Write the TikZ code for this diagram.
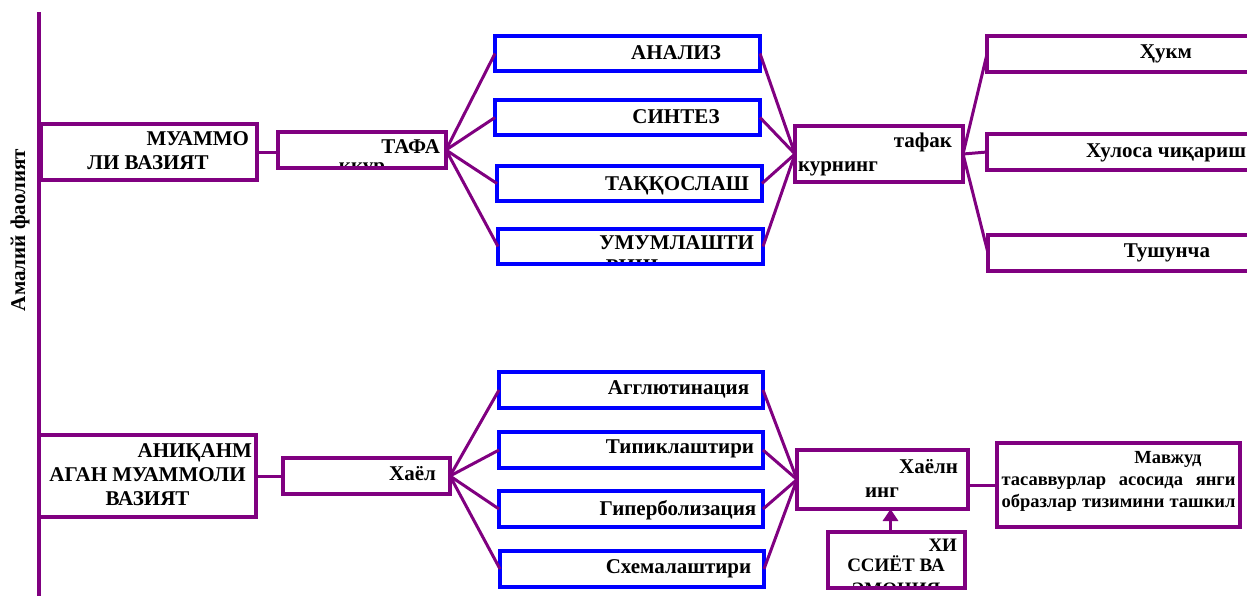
\documentclass[tikz,border=0pt]{standalone}
\usepackage{fontspec}
\setmainfont{Liberation Serif}
\usetikzlibrary{arrows.meta}
\definecolor{vpurple}{RGB}{128,0,128}
\definecolor{vblue}{RGB}{0,0,255}
\newcommand\smtxt{\fontsize{18.5}{22}\selectfont}

\begin{document}
\begin{tikzpicture}[x=1pt, y=-1pt,
    pbox/.style={draw=vpurple, line width=4pt, outer sep=0pt, inner sep=0pt, anchor=north west},
    bbox/.style={pbox, draw=vblue},
    lbl/.style={font=\bfseries\fontsize{21}{24}\selectfont, inner sep=0pt, anchor=base, align=flush center},
    txt/.style n args={4}{path picture={\node[lbl, text width=#1] at ([xshift=#2, yshift=-#3]path picture bounding box.north) {#4};}},
    wire/.style={draw=vpurple, line width=3pt}]
    \useasboundingbox (0,0) rectangle (1247,595);
    \clip (0,0) rectangle (1247,595);

    % axis on the left
    \coordinate (axtop) at (39,12);
    \coordinate (axbot) at (39,600);
    \draw[wire, line width=4.5pt] (axtop) -- (axbot);
    \node[font=\bfseries\fontsize{21}{24}\selectfont, rotate=90] (side) at (20,230) {Амалий фаолият};

    % upper branch
    \node[pbox, minimum width=216pt, minimum height=56pt, txt={202pt}{-1pt}{21pt}{\hfill МУАММО\\ЛИ ВАЗИЯТ}] (muammo) at (41,124) {};
    \node[pbox, minimum width=168pt, minimum height=36pt, txt={156pt}{0pt}{21pt}{\hfill ТАФА\\[-5pt]ккур}] (tafa) at (278,132) {};
    \node[bbox, minimum width=265pt, minimum height=35pt, txt={240pt}{48.5pt}{23pt}{АНАЛИЗ}] (analiz) at (495,36) {};
    \node[bbox, minimum width=265pt, minimum height=35pt, txt={240pt}{48.5pt}{23pt}{СИНТЕЗ}] (sintez) at (495,100) {};
    \node[bbox, minimum width=265pt, minimum height=35pt, txt={240pt}{47.5pt}{24pt}{ТАҚҚОСЛАШ}] (taqq) at (497,166) {};
    \node[bbox, minimum width=265pt, minimum height=35pt, txt={244pt}{1.5pt}{20pt}{\hfill УМУМЛАШТИ\\РИШ}] (umum) at (498,229) {};
    \node[pbox, minimum width=168pt, minimum height=56pt, txt={154pt}{-4pt}{21pt}{\hfill тафак\\курнинг\hfill\mbox{}}] (tafak) at (795,126) {};
    \node[pbox, minimum width=358pt, minimum height=36pt, txt={300pt}{0pt}{22pt}{Ҳукм}] (hukm) at (987,36) {};
    \node[pbox, minimum width=358pt, minimum height=36pt, txt={300pt}{0pt}{23pt}{Хулоса чиқариш}] (xulosa) at (987,134) {};
    \node[pbox, minimum width=358pt, minimum height=36pt, txt={300pt}{0pt}{22pt}{Тушунча}] (tushuncha) at (988,235) {};

    \draw[wire] (muammo.east) -- (muammo.east -| tafa.west);
    \foreach \b in {analiz,sintez,taqq,umum}
      \draw[wire] (tafa.east) -- (\b.west) (\b.east) -- (tafak.west);
    \foreach \b in {hukm,xulosa,tushuncha}
      \draw[wire] (tafak.east) -- (\b.west);

    % lower branch
    \node[pbox, minimum width=217pt, minimum height=82pt, txt={209pt}{0pt}{22pt}{\hfill АНИҚАНМ\\АГАН МУАММОЛИ\\ВАЗИЯТ}] (aniq) at (39,435) {};
    \node[pbox, minimum width=167pt, minimum height=36pt, txt={150pt}{46pt}{22pt}{Хаёл}] (hayol) at (283,458) {};
    \node[bbox, minimum width=264pt, minimum height=36pt, txt={240pt}{47.5pt}{22pt}{Агглютинация}] (aggl) at (499,372) {};
    \node[bbox, minimum width=264pt, minimum height=36pt, txt={240pt}{49pt}{21pt}{Типиклаштири}] (tipik) at (499,432) {};
    \node[bbox, minimum width=264pt, minimum height=36pt, txt={240pt}{47pt}{24pt}{Гиперболизация}] (giper) at (499,491) {};
    \node[bbox, minimum width=264pt, minimum height=36pt, txt={240pt}{46.5pt}{22pt}{Схемалаштири}] (sxema) at (500,551) {};
    \node[pbox, minimum width=171pt, minimum height=59pt, txt={152pt}{-0.5pt}{23pt}{\hfill Хаёлн\\инг}] (hayoln) at (797,450) {};
    \node[pbox, minimum width=243pt, minimum height=84pt, txt={234pt}{0pt}{20pt}{\smtxt\hfill Мавжуд\rule{34pt}{0pt}\\тасаввурлар \hfill асосида \hfill янги\\образлар \hfill тизимини \hfill ташкил\\[3pt]қилиш}] (mavjud) at (997,443) {};
    \node[pbox, minimum width=137pt, minimum height=56pt, txt={122pt}{-0.5pt}{19pt}{\fontsize{19}{20}\selectfont\hfill ХИ\\ССИЁТ ВА\\ЭМОЦИЯ}] (hiss) at (828,532) {};

    \draw[wire] (aniq.east) -- (hayol.west);
    \foreach \b in {aggl,tipik,giper,sxema}
      \draw[wire] (hayol.east) -- (\b.west) (\b.east) -- (hayoln.west);
    \draw[wire] (mavjud.west) -- (mavjud.west -| hayoln.east);
    \draw[wire, -{Triangle[length=12pt, width=15pt]}] ([xshift=-6pt]hiss.north) -- ([xshift=-6pt]hiss.north |- hayoln.south);
\end{tikzpicture}
\end{document}
